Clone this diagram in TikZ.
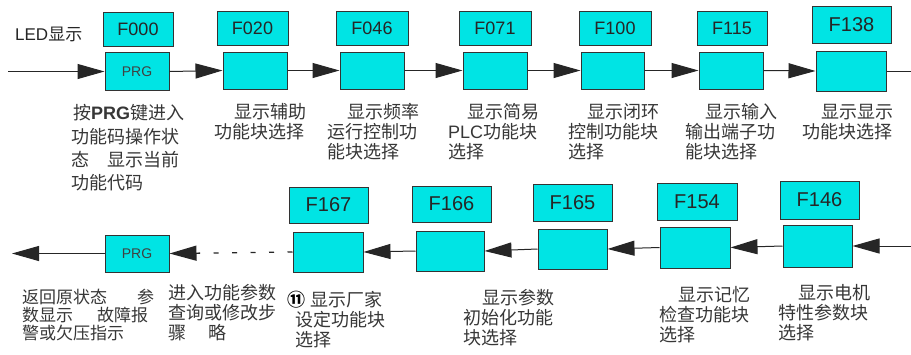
\documentclass[tikz,border=0pt]{standalone}
\usepackage{fontspec}
\setmainfont{Liberation Sans}
\newfontfamily\cjk{Noto Sans CJK SC}
\newfontfamily\lat{Liberation Sans}
\usetikzlibrary{arrows.meta}
\definecolor{boxcyan}{RGB}{0,228,228}
\definecolor{txtgray}{RGB}{55,55,55}
\tikzset{
  lblbox/.style={draw=black!80, fill=boxcyan, line width=1pt, inner sep=0pt,
    font=\lat\fontsize{18}{18}\selectfont, text=black!85},
  bigbox/.style={lblbox, font=\lat\fontsize{20}{20}\selectfont},
  keybox/.style={draw=black!80, fill=boxcyan, line width=1pt, inner sep=0pt,
    font=\lat\fontsize{14}{14}\selectfont, text=black!75},
  desc/.style={inner sep=0pt, anchor=base west, text=txtgray,
    font=\cjk\fontsize{18}{20}\selectfont},
  descs/.style={desc, font=\cjk\fontsize{17}{18}\selectfont},
  plain/.style={line width=1pt, draw=black!85},
  conn/.style={plain, -{Triangle[length=27pt,width=15pt]}},
  dotconn/.style={conn, dash pattern=on 5pt off 13.5pt, line width=1.3pt}
}
\begin{document}
\begin{tikzpicture}[x=1pt,y=-1pt]
\useasboundingbox (0,0) rectangle (911,354);
\fill[white] (0,0) rectangle (911,354);

% LED label
\node[inner sep=0pt, anchor=base west, font=\lat\fontsize{17}{17}\selectfont, text=black!85] (led) at (15,40) {LED{\cjk 显示}};

% ---- top row ----
\node[lblbox, minimum width=70, minimum height=34] (l000) at (138,29) {F000};
\node[keybox, minimum width=64, minimum height=38] (k000) at (137,71.5) {PRG};
\node[lblbox, minimum width=71, minimum height=34] (l020) at (252.5,28) {F020};
\node[keybox, minimum width=64, minimum height=37] (k020) at (255,70.5) {};
\node[lblbox, minimum width=72, minimum height=34] (l046) at (372,28) {F046};
\node[keybox, minimum width=64, minimum height=37] (k046) at (372,70.5) {};
\node[lblbox, minimum width=72, minimum height=34] (l071) at (495,28) {F071};
\node[keybox, minimum width=64, minimum height=37] (k071) at (495,70.5) {};
\node[lblbox, minimum width=72, minimum height=34] (l100) at (615,28) {F100};
\node[keybox, minimum width=63, minimum height=37] (k100) at (612.5,70.5) {};
\node[lblbox, minimum width=70, minimum height=34] (l115) at (732,28) {F115};
\node[keybox, minimum width=64, minimum height=37] (k115) at (731,70.5) {};
\node[bigbox, minimum width=79, minimum height=37] (l138) at (851.5,24.5) {F138};
\node[keybox, minimum width=70, minimum height=40] (k138) at (851,71) {};

\coordinate (tin) at (8,71.5);
\coordinate (tout) at (911,71);
\draw[conn] (tin) -- (k000.west);
\draw[conn] (k000.east) -- (k020.west);
\draw[conn] (k020.east) -- (k046.west);
\draw[conn] (k046.east) -- (k071.west);
\draw[conn] (k071.east) -- (k100.west);
\draw[conn] (k100.east) -- (k115.west);
\draw[conn] (k115.east) -- (k138.west);
\draw[plain] (k138.east) -- (tout);

% ---- bottom row ----
\node[bigbox, minimum width=79, minimum height=36] (l167) at (328.5,205) {F167};
\node[keybox, minimum width=70, minimum height=40] (k167) at (328,252) {};
\node[bigbox, minimum width=79, minimum height=36] (l166) at (451.5,204) {F166};
\node[keybox, minimum width=68, minimum height=40] (k166) at (450,251) {};
\node[bigbox, minimum width=79, minimum height=37] (l165) at (572.5,202.5) {F165};
\node[keybox, minimum width=69, minimum height=40] (k165) at (572.5,249) {};
\node[bigbox, minimum width=80, minimum height=37] (l154) at (697,201.5) {F154};
\node[keybox, minimum width=70, minimum height=41] (k154) at (695,247.5) {};
\node[bigbox, minimum width=79, minimum height=38] (l146) at (819.5,200) {F146};
\node[keybox, minimum width=69, minimum height=42] (k146) at (817.5,246) {};
\node[keybox, minimum width=64, minimum height=37] (p2) at (137,253.5) {PRG};

\coordinate (bin) at (911,246);
\coordinate (bout) at (12,253.5);
\draw[conn] (bin) -- (k146.east);
\draw[conn] (k146.west) -- (k154.east);
\draw[conn] (k154.west) -- (k165.east);
\draw[conn] (k165.west) -- (k166.east);
\draw[conn] (k166.west) -- (k167.east);
\draw[dotconn] (k167.west) -- (p2.east);
\draw[conn] (p2.west) -- (bout);

% ---- descriptions, top ----
\foreach \t [count=\i] in {{\hspace*{2pt}按{\lat\bfseries PRG}键进入},功能码操作状,{态　显示当前},功能代码}
  \node[desc] (d1-\i) at (71,{119.8+(\i-1)*23.3}) {\t};
\foreach \t [count=\i] in {{\hspace*{20pt}显示辅助},功能块选择}
  \node[desc] (d2-\i) at (214,{118.8+(\i-1)*20}) {\t};
\foreach \t [count=\i] in {{\hspace*{20pt}显示频率},运行控制功,能块选择}
  \node[desc] (d3-\i) at (327,{118.8+(\i-1)*20}) {\t};
\foreach \t [count=\i] in {{\hspace*{19pt}显示简易},{{\lat PLC}功能块},选择}
  \node[desc] (d4-\i) at (448,{118.8+(\i-1)*20}) {\t};
\foreach \t [count=\i] in {{\hspace*{19pt}显示闭环},控制功能块,选择}
  \node[desc] (d5-\i) at (568,{118.8+(\i-1)*20}) {\t};
\foreach \t [count=\i] in {{\hspace*{20pt}显示输入},输出端子功,能块选择}
  \node[desc] (d6-\i) at (685,{118.8+(\i-1)*20}) {\t};
\foreach \t [count=\i] in {{\hspace*{19pt}显示显示},功能块选择}
  \node[desc] (d7-\i) at (802,{118.8+(\i-1)*20}) {\t};

% ---- descriptions, bottom ----
\foreach \t [count=\i] in {{返回原状态\hspace{30pt}参},{数显示\hspace{24pt}故障报},警或欠压指示}
  \node[descs] (b1-\i) at (22,{303.5+(\i-1)*18}) {\t};
\foreach \t [count=\i] in {进入功能参数,查询或修改步,{骤\hspace{22pt}略}}
  \node[desc] (b2-\i) at (168,{299.8+(\i-1)*20}) {\t};
\node[desc] (b3-1) at (287,306.8) {{\bfseries\color{black}⑪}\hspace{5pt}显示厂家};
\foreach \t [count=\i] in {设定功能块,选择}
  \node[desc] (b3-\i b) at (295,{326.8+(\i-1)*20}) {\t};
\foreach \t [count=\i] in {{\hspace*{19pt}显示参数},初始化功能,块选择}
  \node[desc] (b4-\i) at (463,{304.8+(\i-1)*20}) {\t};
\foreach \t [count=\i] in {{\hspace*{19pt}显示记忆},检查功能块,选择}
  \node[desc] (b5-\i) at (659,{301.8+(\i-1)*20}) {\t};
\foreach \t [count=\i] in {{\hspace*{20pt}显示电机},特性参数块,选择}
  \node[desc] (b6-\i) at (778,{299.8+(\i-1)*20}) {\t};
\end{tikzpicture}
\end{document}
